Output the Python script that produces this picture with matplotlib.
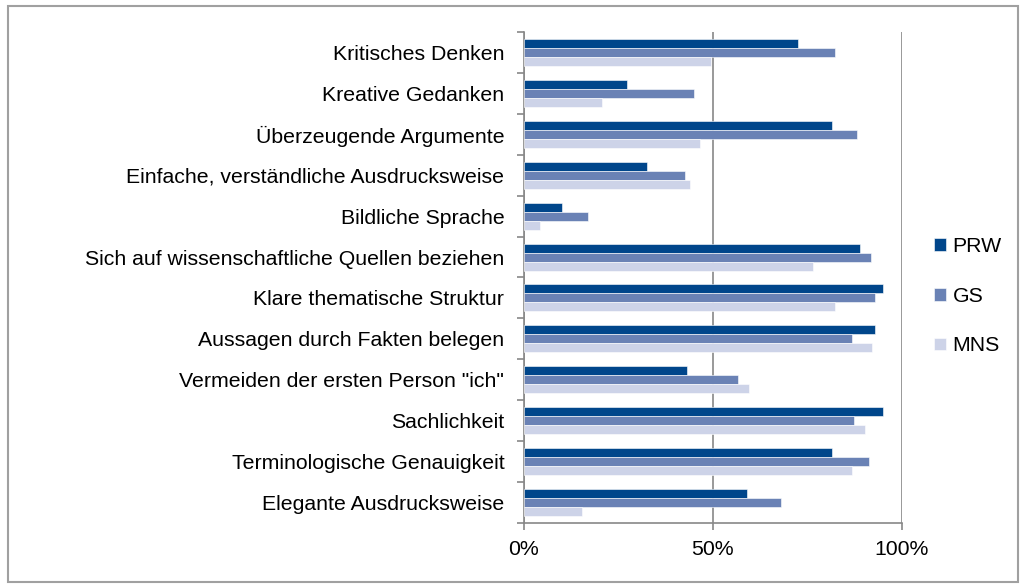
import matplotlib.pyplot as plt
import numpy as np
from matplotlib.patches import Rectangle

plt.rcParams['font.family'] = ['Liberation Sans', 'DejaVu Sans']

# categories, top to bottom
categories = [
    "Kritisches Denken",
    "Kreative Gedanken",
    "Überzeugende Argumente",
    "Einfache, verständliche Ausdrucksweise",
    "Bildliche Sprache",
    "Sich auf wissenschaftliche Quellen beziehen",
    "Klare thematische Struktur",
    "Aussagen durch Fakten belegen",
    "Vermeiden der ersten Person \"ich\"",
    "Sachlichkeit",
    "Terminologische Genauigkeit",
    "Elegante Ausdrucksweise",
]
series_names = ["PRW", "GS", "MNS"]
prw = [72.6, 27.4, 81.6, 32.5, 10.1, 89.0, 94.9, 92.8, 43.1, 95.0, 81.6, 59.1]
gs = [82.4, 45.1, 88.2, 42.7, 17.1, 91.9, 92.8, 86.9, 56.7, 87.3, 91.2, 67.9]
mns = [49.4, 20.7, 46.5, 44.0, 4.2, 76.6, 82.3, 92.1, 59.5, 90.1, 86.7, 15.4]
colors = ["#00468b", "#6a82b5", "#cdd3e8"]

fig = plt.figure(figsize=(10.25, 5.86), dpi=100)
ax = fig.add_axes([0.511, 0.1075, 0.369, 0.838])

# outer frame like the original chart box
fig.patches.append(Rectangle((8 / 1025, 4 / 586), 1010 / 1025, 576 / 586,
                             transform=fig.transFigure, fill=False,
                             edgecolor="#a0a0a0", linewidth=1.5))

n = len(categories)
y = np.arange(n)
h = 0.22
for i, (vals, name) in enumerate(zip([prw, gs, mns], series_names)):
    ax.barh(y + (i - 1) * h, vals, height=h, color=colors[i], label=name,
            edgecolor="white", linewidth=0.4, zorder=3)

ax.set_ylim(n - 0.5, -0.5)
ax.set_xlim(0, 100)
ax.set_yticks(y)
ax.set_yticklabels(categories, fontsize=15.3)
ax.set_yticks(np.arange(n + 1) - 0.5, minor=True)
ax.tick_params(axis="y", which="major", length=0, pad=14)
ax.tick_params(axis="y", which="minor", length=5, color="#888888", width=1.2)

ax.set_xticks([0, 50, 100])
ax.set_xticklabels(["0%", "50%", "100%"], fontsize=15.3)
ax.tick_params(axis="x", length=5, color="#888888", width=1.2, pad=7)
ax.xaxis.grid(True, color="#888888", linewidth=1.2, zorder=1)

for s in ["top", "right"]:
    ax.spines[s].set_visible(False)
for s in ["left", "bottom"]:
    ax.spines[s].set_color("#888888")
    ax.spines[s].set_linewidth(1.2)

ax.legend(loc="center left", bbox_to_anchor=(1.035, 0.462), frameon=False,
          fontsize=15.3, handlelength=0.55, handleheight=0.55, handletextpad=0.3,
          labelspacing=1.45)

fig.savefig("out.png", dpi=100)
